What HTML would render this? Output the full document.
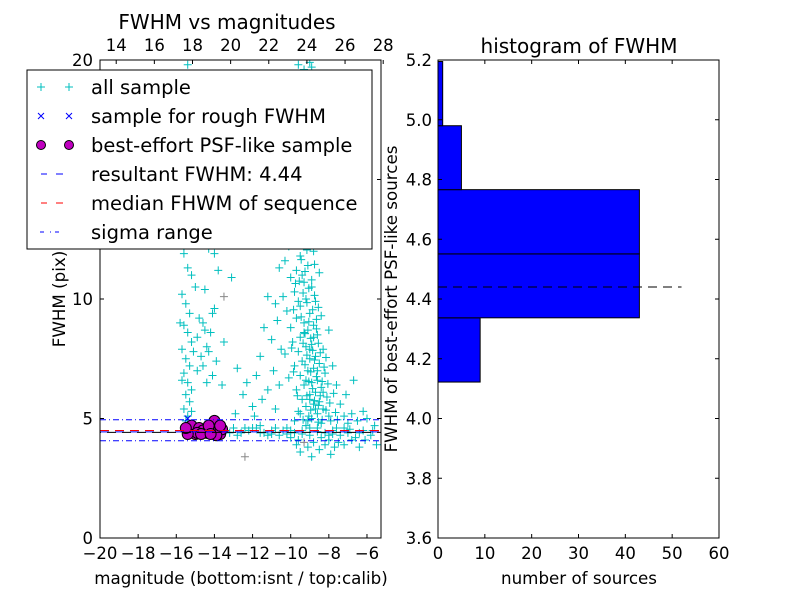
<!DOCTYPE html>
<html><head><meta charset="utf-8"><style>
body{margin:0;background:#fff}
svg{display:block;font-family:"DejaVu Sans","Liberation Sans",sans-serif}
</style></head><body>
<svg id="c" width="800" height="600"></svg>
<script>
const allSample=[[-15.4,19.8],[-15.3,18.9],[-15.5,18.2],[-15.2,17.5],[-15.4,16.8],[-15.3,16.1],[-15.6,15.4],[-15.2,14.6],[-15.4,13.9],[-15.5,13.1],[-15.3,12.5],[-15.6,11.9],[-15.4,11.3],[-15.2,11.0],[-15.7,10.2],[-15.5,9.8],[-15.3,9.4],[-15.6,8.9],[-15.4,8.6],[-15.2,8.2],[-15.7,7.9],[-15.5,7.5],[-15.3,7.2],[-15.6,6.9],[-15.4,6.5],[-15.2,6.2],[-15.5,6.0],[-15.3,5.7],[-15.6,5.4],[-15.4,5.1],[-15.5,4.9],[-15.2,5.3],[-15.7,6.6],[-15.1,7.8],[-15.8,9.0],[-15.0,10.5],[-15.6,12.2],[-15.2,13.4],[-15.5,14.2],[-15.3,15.8],
[-14.8,9.2],[-14.6,9.0],[-14.5,8.7],[-14.9,8.4],[-14.4,8.0],[-14.7,7.6],[-14.3,7.8],[-14.6,7.2],[-14.2,8.6],[-14.9,7.0],[-14.1,6.8],[-13.9,7.4],[-14.4,6.5],[-13.6,6.4],[-14.0,9.6],[-14.5,10.4],[-13.8,11.2],[-14.3,12.1],[-13.5,8.2],[-14.0,11.9],[-13.1,10.9],[-14.1,9.4],
[-12.8,7.1],[-12.3,6.5],[-11.8,6.8],[-12.5,6.0],[-11.5,5.8],[-12.0,5.5],[-11.2,6.2],[-10.9,7.0],[-11.6,7.6],[-11.0,8.3],[-10.7,9.1],[-12.9,5.2],[-11.9,5.1],[-10.6,6.4],[-10.8,5.4],[-11.4,8.8],[-10.5,7.9],
[-9.6,19.8],[-9.3,19.6],[-9.0,19.9],[-8.9,19.7],[-9.5,18.5],[-9.2,17.6],[-8.8,17.2],[-9.7,16.4],[-9.1,16.0],[-8.7,15.5],[-9.4,15.1],[-9.9,14.6],[-8.9,14.3],[-9.2,13.9],[-9.6,13.5],[-8.6,13.2],[-9.8,12.9],[-9.0,12.7],[-9.4,12.4],[-10.1,12.2],[-8.8,12.0],[-9.5,11.8],[-10.3,11.6],[-9.1,11.4],[-9.7,11.2],[-8.5,11.1],[-10.0,10.9],[-9.3,10.7],[-8.9,10.5],[-9.8,10.3],[-10.4,10.1],[-9.2,10.0],[-8.7,9.9],[-9.5,9.7],[-10.2,9.5],[-9.0,9.4],[-8.4,9.3],[-9.7,9.2],[-9.3,9.0],[-8.8,8.9],[-10.0,8.8],[-9.1,8.7],[-8.6,8.5],[-9.5,8.4],[-9.9,8.2],[-8.9,8.1],[-9.2,8.0],[-8.3,7.9],[-9.6,7.8],[-10.3,7.7],[-8.7,7.6],[-9.0,7.5],[-9.4,7.4],[-8.5,7.3],[-9.8,7.2],[-8.8,7.1],[-9.1,7.0],[-8.2,6.9],[-9.5,6.8],[-10.1,6.7],[-8.6,6.6],[-8.9,6.5],[-9.3,6.4],[-8.4,6.3],[-9.7,6.2],[-8.7,6.1],[-9.0,6.0],[-8.1,5.9],[-9.4,5.8],[-8.5,5.7],[-8.8,5.6],[-9.2,5.5],[-8.3,5.4],[-9.6,5.3],[-8.6,5.2],[-8.0,5.1],[-8.9,5.0],[-9.1,4.9],[-8.4,4.8],[-7.9,4.9],[-10.6,11.3],[-10.8,9.8],[-8.0,8.7],[-7.8,7.2],[-7.6,6.4],[-7.4,5.6],[-7.2,5.1],[-7.0,4.8],[-6.8,5.2],[-6.5,4.9],[-6.2,5.3],[-6.0,5.0],[-5.6,4.7],[-7.1,6.0],[-6.7,6.6],[-9.9,13.7],[-9.0,15.9],[-8.5,12.5],[-10.5,12.8],[-11.2,10.1],[-9.4,16.9],[-8.7,18.3],[-9.8,4.9],[-9.5,5.2],[-8.7,5.4],[-9.0,5.8],[-8.3,6.1],[-9.2,6.6],[-8.6,7.0],[-9.0,7.9],[-8.8,8.4],[-9.3,8.6],[-9.6,9.9],[-8.9,10.8],[-9.4,11.0],
[-9.05,5.1],[-8.95,5.35],[-8.75,5.75],[-9.15,5.95],[-8.85,6.25],[-9.05,6.55],[-8.65,6.75],[-8.95,6.95],[-9.25,7.25],[-8.75,7.45],[-9.15,7.65],[-8.85,7.85],[-9.35,8.15],[-8.95,8.35],[-9.25,8.55],[-8.65,8.75],[-9.05,9.05],[-9.45,9.25],[-8.85,9.55],[-9.15,9.85],[-9.35,10.25],[-9.05,10.45],[-9.55,10.75],[-9.25,11.15],[-8.75,11.45],[-9.45,11.65],[-9.15,12.05],[-9.65,12.35],[-8.95,12.85],[-9.35,13.25],[-8.55,5.55],[-8.45,5.95],[-8.35,6.55],[-8.25,7.15],[-8.45,7.75],[-8.55,8.15],[-8.65,9.15],[-8.55,9.65],[-8.75,10.15],[-9.75,10.65],[-9.85,9.55],[-9.95,7.95],[-9.85,6.95],[-9.65,5.95],[-9.35,4.95],[-8.15,5.35],[-7.95,5.65],[-7.75,6.05],[-7.65,5.25],[-8.05,6.45],[-8.15,7.55],[-7.55,4.95],[-8.35,4.95],[-8.55,4.85],
[-13.4,4.5],[-13.0,4.6],[-12.6,4.4],[-12.2,4.5],[-11.8,4.6],[-11.4,4.4],[-11.0,4.5],[-10.6,4.3],[-10.2,4.6],[-9.8,4.4],[-9.4,4.5],[-9.0,4.3],[-8.6,4.6],[-8.2,4.4],[-7.8,4.5],[-7.4,4.3],[-7.0,4.4],[-6.6,4.2],[-6.2,4.5],[-5.8,4.3],[-12.8,4.3],[-11.6,4.7],[-10.4,4.5],[-9.2,4.7],[-8.4,4.2],[-7.6,4.6],[-6.8,4.1],[-10.0,4.2],[-9.6,4.1],[-8.8,4.0],[-8.0,4.1],[-7.2,3.9],[-8.5,3.7],[-9.7,3.9],[-7.9,3.5],[-6.4,3.8],[-5.5,3.9],[-8.9,3.4],[-9.5,3.6],[-7.5,4.0],[-11.2,4.3],[-12.0,4.6],
[-13.2,4.4],[-12.4,4.6],[-11.6,4.4],[-10.8,4.6],[-10.0,4.5],[-9.0,4.6],[-8.0,4.3],[-7.2,4.6],[-6.4,4.4],[-5.7,4.5],[-11.0,4.35],[-10.2,4.35],[-9.4,4.35],[-8.6,4.45],[-7.8,4.35],[-6.9,4.55],[-8.2,3.9],[-7.7,3.8],[-9.1,3.8],[-6.1,4.1]];
const graySample=[[-14.4,12.4],[-13.5,10.1],[-12.4,3.4],[-9.3,4.0]];
const roughSample=[[-15.4,5.0],[-15.1,4.6],[-14.5,4.5]];
const psfSample=[[-15.3,4.55],[-15.1,4.45],[-15.2,4.7],[-15.0,4.35],[-14.8,4.6],[-14.6,4.5],[-14.4,4.4],[-14.2,4.55],[-14.1,4.75],[-13.9,4.6],[-13.8,4.45],[-13.7,4.35],[-14.0,4.9],[-13.6,4.55],[-14.3,4.7],[-14.9,4.4],[-13.9,4.3],[-15.4,4.35],[-15.5,4.6],[-14.7,4.35],[-13.7,4.7],[-14.2,4.35]];
const resultantFwhm=4.44, medianFwhm=4.50, sigmaLow=4.07, sigmaHigh=4.95;
const calibOffset=33.15;
const xTicks=[-20,-18,-16,-14,-12,-10,-8,-6];
const topTicks=[14,16,18,20,22,24,26,28];
const yTicks=[0,5,10,15,20];
const binEdges=[4.122,4.337,4.551,4.766,4.980,5.195];
const binCounts=[9,43,43,5,1];
const histXTicks=[0,10,20,30,40,50,60];
const histYTicks=[3.6,3.8,4.0,4.2,4.4,4.6,4.8,5.0,5.2];

const svg=document.getElementById('c');const NS='http://www.w3.org/2000/svg';
function mk(t,a,p){const e=document.createElementNS(NS,t);for(const k in a)e.setAttribute(k,a[k]);(p||svg).appendChild(e);return e;}
const L={x0:100,x1:381,y0:60,y1:538};
const sx=v=>L.x0+(v+20)*19.07, sy=v=>L.y1-v*23.9;
const H={x0:438,x1:719,y0:60,y1:538};
const hx=v=>H.x0+v*(H.x1-H.x0)/60, hy=v=>H.y1-(v-3.6)*(H.y1-H.y0)/1.6;

const defs=mk('defs',{});const cp=mk('clipPath',{id:'lc'},defs);mk('rect',{x:L.x0,y:L.y0,width:L.x1-L.x0,height:L.y1-L.y0},cp);
const gL=mk('g',{'clip-path':'url(#lc)'});

function plus(x,y,c,g){const e=mk('path',{d:`M${x-4},${y}h8M${x},${y-4}v8`,stroke:c,'stroke-width':1,fill:'none'},g);return e;}
allSample.forEach(p=>{const e=plus(sx(p[0]),sy(p[1]),'#00bfbf',gL);

});
graySample.forEach(p=>{const e=plus(sx(p[0]),sy(p[1]),'#888',gL);

});
roughSample.forEach(p=>{const x=sx(p[0]),y=sy(p[1]);const e=mk('path',{d:`M${x-3},${y-3}l6,6M${x-3},${y+3}l6,-6`,stroke:'#00f','stroke-width':1},gL);

});
function hline(v,c,dash,nm){const e=mk('line',{x1:L.x0,x2:L.x1,y1:sy(v),y2:sy(v),stroke:c,'stroke-width':1,'stroke-dasharray':dash},gL);

}
psfSample.forEach(p=>{const e=mk('circle',{cx:sx(p[0]),cy:sy(p[1]),r:5.5,fill:'#bf00bf',stroke:'#000','stroke-width':1},gL);

});
hline(sigmaHigh,'#00f','6 3 1 3','sigma-high-line');
hline(sigmaLow,'#00f','6 3 1 3','sigma-low-line');
hline(medianFwhm,'#f00','9 6','median-fwhm-line');
hline(resultantFwhm,'#00f','9 6','resultant-fwhm-line');
mk('line',{x1:L.x0,x2:L.x1,y1:sy(resultantFwhm)+0.5,y2:sy(resultantFwhm)+0.5,stroke:'#000','stroke-width':1,'stroke-dasharray':'9 6','stroke-dashoffset':-7},gL);

function txt(x,y,s,sz,anc,extra){const e=mk('text',Object.assign({x:x,y:y,'font-size':sz,'text-anchor':anc||'middle',fill:'#000'},extra||{}));e.textContent=s;return e;}
mk('rect',{x:L.x0,y:L.y0,width:L.x1-L.x0,height:L.y1-L.y0,fill:'none',stroke:'#000','stroke-width':1});
xTicks.forEach(v=>{const x=sx(v);mk('line',{x1:x,x2:x,y1:L.y1,y2:L.y1-4,stroke:'#000'});
const t=txt(x,L.y1+21,'\u2212'+Math.abs(v),16.5);

});
topTicks.forEach(v=>{const x=sx(v-calibOffset);mk('line',{x1:x,x2:x,y1:L.y0,y2:L.y0+4,stroke:'#000'});
const t=txt(x,L.y0-9,String(v),16.5);

});
yTicks.forEach(v=>{const y=sy(v);mk('line',{x1:L.x0,x2:L.x0+4,y1:y,y2:y,stroke:'#000'});mk('line',{x1:L.x1,x2:L.x1-4,y1:y,y2:y,stroke:'#000'});
const t=txt(L.x0-7,y+6,String(v),16.5,'end');

});
let t=txt(227,29,'FWHM vs magnitudes',20);
t=txt(241,584,'magnitude (bottom:isnt / top:calib)',16.7);
t=txt(0,0,'FWHM (pix)',16.7,'middle',{transform:'translate(65,299) rotate(-90)'});

const lg=mk('g',{});
mk('rect',{x:27,y:70,width:345,height:179,fill:'#fff',stroke:'#000','stroke-width':1},lg);
const labels=['all sample','sample for rough FWHM','best-effort PSF-like sample','resultant FWHM: 4.44','median FHWM of sequence','sigma range'];
labels.forEach((s,i)=>{const y=87+i*29;const a=41,b=69;
if(i==0){plus(a,y,'#00bfbf',lg);plus(b,y,'#00bfbf',lg);}
if(i==1){[a,b].forEach(x=>mk('path',{d:`M${x-3},${y-3}l6,6M${x-3},${y+3}l6,-6`,stroke:'#00f'},lg));}
if(i==2){[a,b].forEach(x=>mk('circle',{cx:x,cy:y,r:4.5,fill:'#bf00bf',stroke:'#000'},lg));}
if(i==3||i==4){mk('line',{x1:41,x2:47,y1:y,y2:y,stroke:i==3?'#00f':'#f00'},lg);mk('line',{x1:56,x2:63,y1:y,y2:y,stroke:i==3?'#00f':'#f00'},lg);}
if(i==5){mk('line',{x1:40,x2:44,y1:y,y2:y,stroke:'#00f'},lg);mk('line',{x1:50,x2:51,y1:y,y2:y,stroke:'#00f'},lg);mk('line',{x1:55,x2:59,y1:y,y2:y,stroke:'#00f'},lg);}
const e=txt(91,y+7,s,19.5,'start');


lg.appendChild(e);});

binCounts.forEach((c,i)=>{const y1=hy(binEdges[i+1]),y2=hy(binEdges[i]);const e=mk('rect',{x:hx(0),y:Math.max(y1,H.y0),width:hx(c)-hx(0),height:y2-Math.max(y1,H.y0),fill:'#00f',stroke:'#000','stroke-width':1});

});
const dl=mk('line',{x1:hx(0),x2:hx(52),y1:hy(resultantFwhm),y2:hy(resultantFwhm),stroke:'#000','stroke-dasharray':'9 6'});

mk('rect',{x:H.x0,y:H.y0,width:H.x1-H.x0,height:H.y1-H.y0,fill:'none',stroke:'#000'});
histXTicks.forEach(v=>{const x=hx(v);mk('line',{x1:x,x2:x,y1:H.y1,y2:H.y1-4,stroke:'#000'});mk('line',{x1:x,x2:x,y1:H.y0,y2:H.y0+4,stroke:'#000'});
const t=txt(x,H.y1+21,String(v),16.5);

});
histYTicks.forEach(v=>{const y=hy(v);mk('line',{x1:H.x0,x2:H.x0+4,y1:y,y2:y,stroke:'#000'});mk('line',{x1:H.x1,x2:H.x1-4,y1:y,y2:y,stroke:'#000'});
const t=txt(H.x0-6,y+6,v.toFixed(1),16.5,'end');

});
t=txt(579,53,'histogram of FWHM',20);
t=txt(579,584,'number of sources',16.7);
t=txt(0,0,'FWHM of best-effort PSF-like sources',16.7,'middle',{transform:'translate(397,299) rotate(-90)'});
</script>
</body></html>
